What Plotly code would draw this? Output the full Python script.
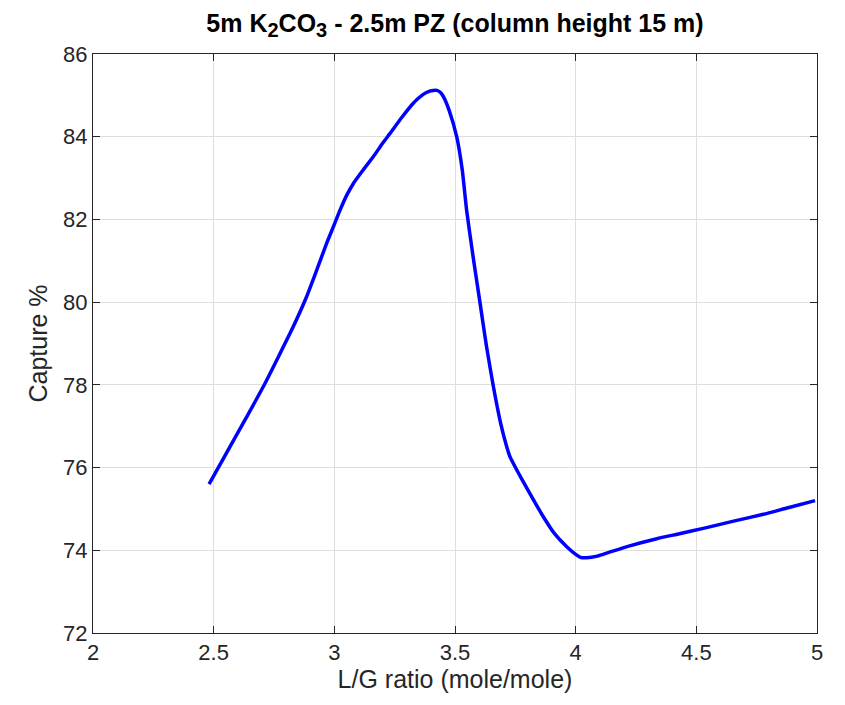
import plotly.graph_objects as go

lg_ratio = [2.481, 2.55, 2.62, 2.706, 2.77, 2.830, 2.885, 2.93, 2.968, 3.0, 3.024, 3.05, 3.079, 3.12,
            3.162, 3.20, 3.231, 3.28, 3.327, 3.37, 3.395, 3.410, 3.425, 3.44, 3.452, 3.475, 3.507, 3.53, 3.548,
            3.575, 3.604, 3.63, 3.659, 3.69, 3.714, 3.728, 3.76, 3.80, 3.866, 3.91, 3.962, 4.0, 4.02, 4.045,
            4.09, 4.143, 4.22, 4.336, 4.43, 4.529, 4.65, 4.778, 4.88, 4.992]
capture = [75.60, 76.32, 77.05, 77.96, 78.70, 79.41, 80.13, 80.82, 81.42, 81.88, 82.23, 82.57, 82.87, 83.20,
           83.52, 83.84, 84.08, 84.47, 84.81, 85.03, 85.10, 85.12, 85.12, 85.07, 84.97, 84.65, 84.0, 83.2, 82.23,
           81.1, 79.97, 78.95, 77.96, 77.05, 76.51, 76.26, 75.90, 75.48, 74.81, 74.42, 74.09, 73.90, 73.83, 73.82,
           73.86, 73.96, 74.10, 74.28, 74.40, 74.53, 74.70, 74.87, 75.03, 75.20]

x_ticks = [2, 2.5, 3, 3.5, 4, 4.5, 5]
x_tick_labels = ["2", "2.5", "3", "3.5", "4", "4.5", "5"]
y_ticks = [72, 74, 76, 78, 80, 82, 84, 86]

FONT = "Liberation Sans, Arial, sans-serif"

fig = go.Figure()
fig.add_trace(go.Scatter(x=lg_ratio, y=capture, mode="lines",
                         line=dict(color="#0000ff", width=3.5, shape="spline", smoothing=0.5),
                         showlegend=False))

axis_common = dict(showline=True, linecolor="#262626", linewidth=1, mirror="ticks",
                   ticks="inside", ticklen=7, tickcolor="#262626",
                   showgrid=True, gridcolor="#dedede", gridwidth=1, zeroline=False,
                   tickfont=dict(family=FONT, size=22, color="#262626"))

# page body has an 8px offset; margins compensate so the plot sits at x 93..817, y 54..633
fig.update_layout(
    width=845, height=705,
    paper_bgcolor="white", plot_bgcolor="white",
    margin=dict(l=85, r=36, t=46, b=80),
    title=dict(text="<b>5m K<sub><span style='font-size:20px'>2</span></sub>CO<sub><span style='font-size:20px'>3</span></sub> - 2.5m PZ (column height 15 m)</b>",
               x=(85 + 809) / 2 / 845, xanchor="center", xref="container",
               y=1 - 15 / 705, yanchor="middle", yref="container",
               font=dict(family=FONT, size=25, color="black")),
    xaxis=dict(range=[2, 5], tickvals=x_ticks, ticktext=x_tick_labels,
               title=dict(text="L/G ratio (mole/mole)", standoff=6,
                          font=dict(family=FONT, size=25, color="#262626")),
               **axis_common),
    yaxis=dict(range=[72, 86], tickvals=y_ticks,
               title=dict(text="Capture %", standoff=8,
                          font=dict(family=FONT, size=25, color="#262626")),
               **axis_common),
)

fig.write_html("out.html")
